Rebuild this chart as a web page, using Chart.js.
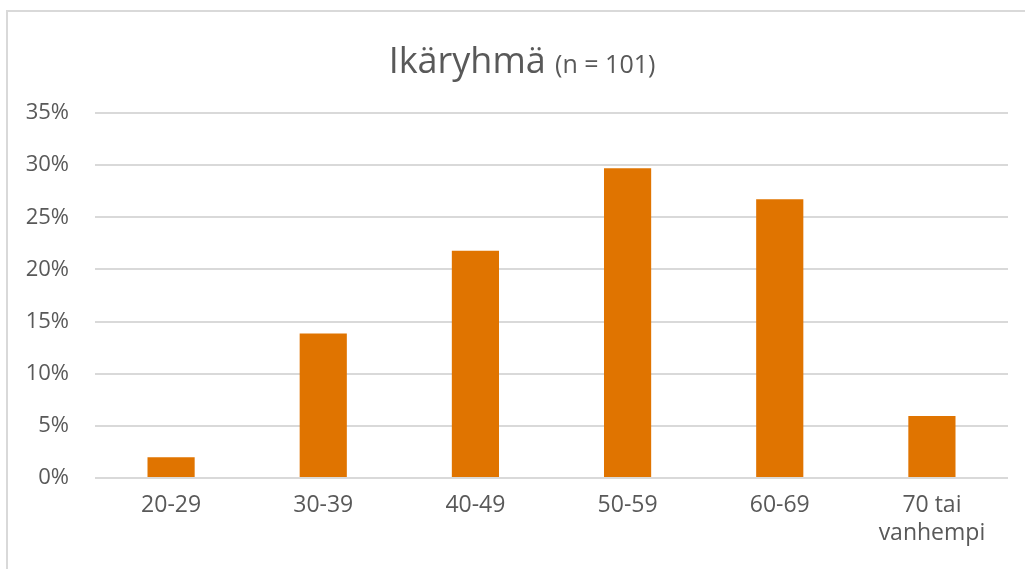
<!DOCTYPE html>
<html>
<head>
<meta charset="utf-8">
<script src="https://cdn.jsdelivr.net/npm/chart.js@4/dist/chart.umd.min.js"></script>
<style>
  html, body { margin: 0; padding: 0; background: #ffffff; }
  #wrap { width: 1025px; height: 569px; position: relative; }
</style>
</head>
<body>
<div id="wrap"><canvas id="c" width="1025" height="569"></canvas></div>
<script>
const categories = ['20-29', '30-39', '40-49', '50-59', '60-69', ['70 tai', 'vanhempi']];
const shares = [1.98, 13.86, 21.78, 29.70, 26.73, 5.94];
const yTicks = [0, 5, 10, 15, 20, 25, 30, 35];
const titleMain = 'Ikäryhmä';
const titleSub = '(n = 101)';

const textColor = '#595959';
const gridColor = '#d9d9d9';
const fontFamily = "'Open Sans', 'Noto Sans', sans-serif";

const framePlugin = {
  id: 'frame',
  beforeDraw(chart) {
    const ctx = chart.ctx;
    ctx.save();
    ctx.fillStyle = '#ffffff';
    ctx.fillRect(0, 0, chart.width, chart.height);
    ctx.strokeStyle = gridColor;
    ctx.lineWidth = 2;
    ctx.beginPath();
    ctx.moveTo(7, chart.height);
    ctx.lineTo(7, 11);
    ctx.lineTo(chart.width, 11);
    ctx.stroke();
    ctx.restore();
  },
  afterDraw(chart) {
    const ctx = chart.ctx;
    ctx.save();
    ctx.fillStyle = textColor;
    ctx.textBaseline = 'alphabetic';
    ctx.textAlign = 'left';
    const f1 = '36px ' + fontFamily;
    const f2 = '25px ' + fontFamily;
    ctx.font = f1;
    const w1 = ctx.measureText(titleMain + ' ').width;
    ctx.font = f2;
    const w2 = ctx.measureText(titleSub).width;
    const x0 = 522 - (w1 + w2) / 2;
    ctx.font = f1;
    ctx.fillText(titleMain + ' ', x0, 73);
    ctx.font = f2;
    ctx.fillText(titleSub, x0 + w1, 73);
    ctx.restore();
  }
};

new Chart(document.getElementById('c'), {
  type: 'bar',
  data: {
    labels: categories,
    datasets: [{
      data: shares,
      backgroundColor: '#E07400',
      borderWidth: 0,
      barPercentage: 1,
      categoryPercentage: 0.31
    }]
  },
  options: {
    responsive: false,
    animation: false,
    devicePixelRatio: 1,
    layout: { padding: { left: 0, top: 113, right: 17, bottom: 0 } },
    plugins: {
      legend: { display: false },
      title: { display: false },
      tooltip: { enabled: false }
    },
    scales: {
      x: {
        grid: { display: false, drawTicks: false },
        border: { display: false },
        ticks: {
          color: textColor,
          font: { family: fontFamily, size: 23, lineHeight: 1.22 },
          padding: 13,
          maxRotation: 0,
          autoSkip: false
        },
        afterFit(scale) { scale.height = 91; }
      },
      y: {
        min: 0,
        max: 35,
        grid: { color: gridColor, lineWidth: 2, drawTicks: false },
        border: { display: false },
        afterBuildTicks(scale) { scale.ticks = yTicks.map(v => ({ value: v })); },
        ticks: {
          color: textColor,
          font: { family: fontFamily, size: 22 },
          padding: 26,
          callback: (v) => v + '%'
        },
        afterFit(scale) { scale.width = 95; }
      }
    }
  },
  plugins: [framePlugin]
});
</script>
</body>
</html>
